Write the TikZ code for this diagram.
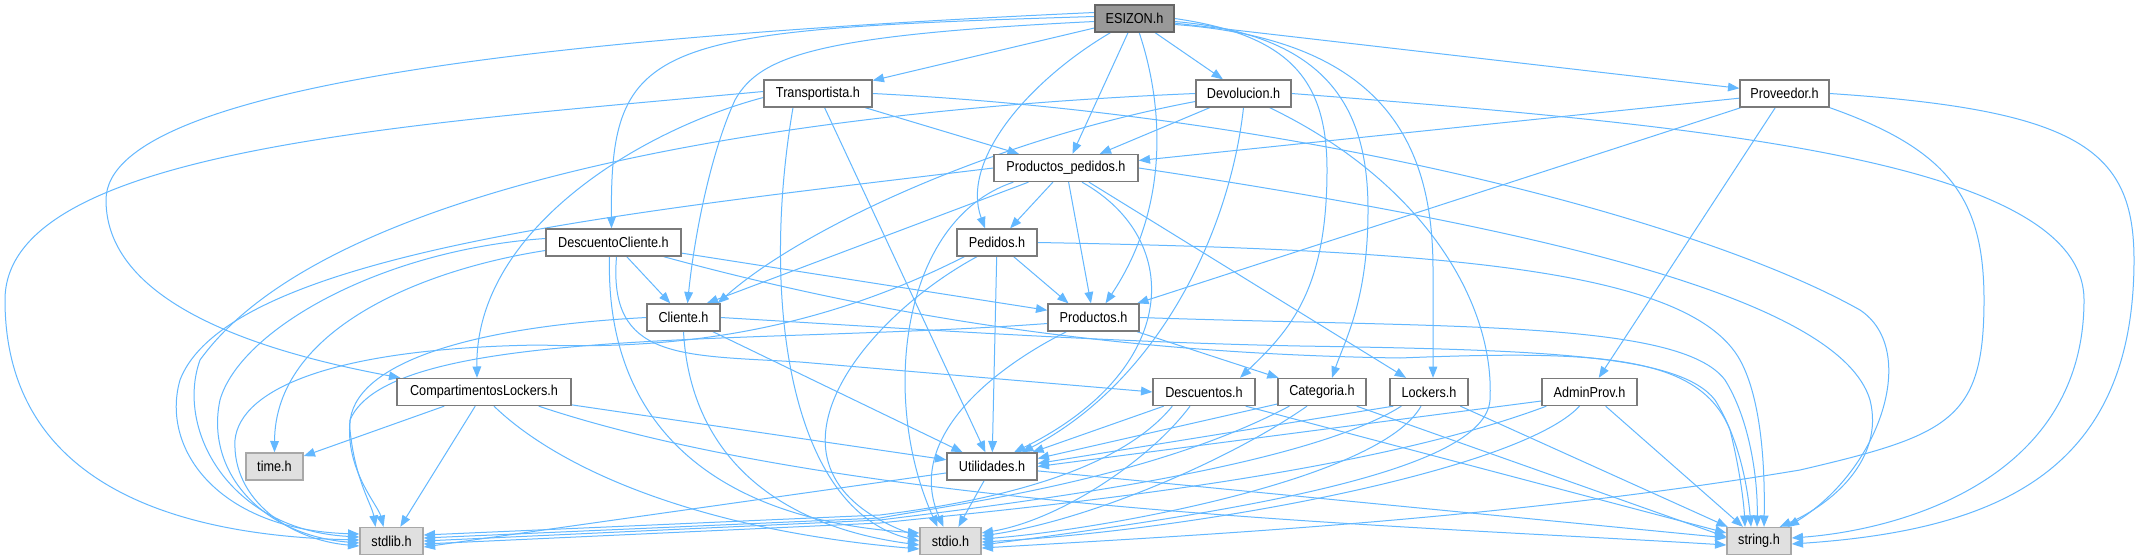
\documentclass[tikz,border=0pt]{standalone}
\usepackage{fontspec}
\setmainfont{Liberation Sans}[FakeStretch=0.88]
\usetikzlibrary{arrows.meta,calc}
\pgfdeclarelayer{bg}
\pgfsetlayers{bg,main}
\definecolor{edgec}{HTML}{63B8FF}
\definecolor{nbord}{HTML}{7A7A7A}
\definecolor{rootfill}{HTML}{999999}
\definecolor{rootbord}{HTML}{666666}
\definecolor{extfill}{HTML}{E0E0E0}
\definecolor{extbord}{HTML}{A8A8A8}
\tikzset{
  nd/.style={draw=nbord, fill=white, line width=1pt, minimum height=20.25pt, inner sep=0pt, font=\fontsize{10.8}{12}\selectfont},
  rootnd/.style={nd, fill=rootfill, draw=rootbord},
  extnd/.style={nd, fill=extfill, draw=extbord},
  dep/.style={draw=edgec, line width=0.75pt, -{Triangle[length=8.5pt,width=6.5pt]}},
}
\begin{document}
\begin{tikzpicture}[x=0.75pt,y=-0.75pt]
\useasboundingbox (0,0) rectangle (2144,560);
\begin{pgfonlayer}{bg}
\fill[white] (0,0) rectangle (2144,560);
\end{pgfonlayer}
% nodes
\node[rootnd, minimum width=59.25pt] (E) at (1134.5,18.5) {ESIZON.h};
\node[nd, minimum width=81pt] (T) at (818,93.5) {Transportista.h};
\node[nd, minimum width=71.25pt] (D) at (1243.5,93.5) {Devolucion.h};
\node[nd, minimum width=66.75pt] (Pv) at (1784.5,93.5) {Proveedor.h};
\node[nd, minimum width=108pt] (PP) at (1066,168) {Productos\_pedidos.h};
\node[nd, minimum width=101.25pt] (DC) at (613.5,242.5) {DescuentoCliente.h};
\node[nd, minimum width=60pt] (Pe) at (997,242.5) {Pedidos.h};
\node[nd, minimum width=54.75pt] (Cl) at (683.5,317.5) {Cliente.h};
\node[nd, minimum width=68.25pt] (Pr) at (1093.5,317.5) {Productos.h};
\node[nd, minimum width=130.5pt] (CL) at (484,392) {CompartimentosLockers.h};
\node[nd, minimum width=76.5pt] (De) at (1204,392) {Descuentos.h};
\node[nd, minimum width=66pt] (Ca) at (1322,392) {Categoria.h};
\node[nd, minimum width=58.5pt] (Lo) at (1429,392) {Lockers.h};
\node[nd, minimum width=71.25pt] (AP) at (1589.5,392) {AdminProv.h};
\node[extnd, minimum width=42.75pt] (ti) at (274.5,466.5) {time.h};
\node[nd, minimum width=67.5pt] (Ut) at (992,466.5) {Utilidades.h};
\node[extnd, minimum width=47.25pt] (sl) at (391.5,541) {stdlib.h};
\node[extnd, minimum width=45.75pt] (si) at (950.5,541) {stdio.h};
\node[extnd, minimum width=48pt] (sg) at (1759,541) {string.h};
\begin{pgfonlayer}{bg}
% ESIZON.h
\draw[dep] (E) -- (T);
\draw[dep] (E) -- (D);
\draw[dep] (E) -- (Pv);
\draw[dep] (E) -- (PP);
\draw[dep] (E) .. controls (1030,80) and (960,160) .. ($(Pe.north)+(-12,0)$);
\draw[dep] (E) .. controls (1165,110) and (1168,210) .. ($(Pr.north)+(12,0)$);
\draw[dep] ($(E.west)+(0,-2)$) .. controls (650,30) and (610,40) .. ($(DC.north)+(-2,0)$);
\draw[dep] ($(E.west)+(0,3)$) .. controls (820,35) and (760,55) .. (735,100) .. controls (712,150) and (695,230) .. ($(Cl.north)+(4,0)$);
\draw[dep] ($(E.west)+(0,-6)$) .. controls (600,35) and (106,80) .. (106,200) .. controls (106,300) and (250,350) .. ($(CL.north west)+(4,0)$);
\draw[dep] (E.east) .. controls (1290,35) and (1327,80) .. (1327,170) .. controls (1327,290) and (1290,330) .. ($(De.north)+(36,0)$);
\draw[dep] ($(E.east)+(0,3)$) .. controls (1330,35) and (1368,110) .. (1368,210) .. controls (1368,300) and (1345,340) .. ($(Ca.north)+(10,0)$);
\draw[dep] ($(E.east)+(0,6)$) .. controls (1390,40) and (1433,150) .. (1433,270) -- ($(Lo.north)+(4,0)$);
% Transportista.h
\draw[dep] (T) -- (PP);
\draw[dep] ($(T.west)+(0,4)$) .. controls (640,130) and (475,230) .. ($(CL.north)+(-7,0)$);
\draw[dep] (T) -- (Ut);
\draw[dep] ($(T.west)+(0,-2)$) .. controls (400,125) and (5,150) .. (5,300) .. controls (5,470) and (150,535) .. ($(sl.west)+(0,-1)$);
\draw[dep] ($(T.south)+(-25,0)$) .. controls (760,300) and (790,510) .. (si.west);
\draw[dep] (T.east) .. controls (1300,115) and (1700,220) .. (1860,310) .. controls (1920,350) and (1880,470) .. ($(sg.north east)+(-4,0)$);
% Devolucion.h
\draw[dep] (D) -- (PP);
\draw[dep] ($(D.west)+(0,8)$) .. controls (990,140) and (800,230) .. ($(Cl.north east)+(-3,0)$);
\draw[dep] (D.south) .. controls (1230,230) and (1160,380) .. ($(Ut.north)+(30,0)$);
\draw[dep] (D.west) .. controls (800,110) and (330,180) .. (200,360) .. controls (175,430) and (230,530) .. ($(sl.west)+(0,-4)$);
\draw[dep] ($(D.south east)+(-22,0)$) .. controls (1420,180) and (1495,300) .. (1490,400) .. controls (1485,470) and (1250,510) .. ($(si.east)+(0,4)$);
\draw[dep] (D.east) .. controls (1700,125) and (2084,160) .. (2084,300) .. controls (2084,480) and (1900,530) .. ($(sg.east)+(0,-3)$);
% Proveedor.h
\draw[dep] (Pv) -- (PP);
\draw[dep] (Pv) -- (Pr);
\draw[dep] (Pv) -- (AP);
\draw[dep] (Pv.south east) .. controls (1950,150) and (1984,200) .. (1984,300) .. controls (1984,420) and (1950,435) .. (1800,470) .. controls (1500,520) and (1200,535) .. ($(si.east)+(0,7)$);
\draw[dep] (Pv.east) .. controls (2080,110) and (2134,150) .. (2134,260) .. controls (2134,470) and (2000,530) .. ($(sg.east)+(0,3)$);
% Productos_pedidos.h
\draw[dep] (PP) -- (Pe);
\draw[dep] (PP) -- (Pr);
\draw[dep] (PP) -- ($(Cl.north east)+(-14,0)$);
\draw[dep] (PP) -- (Lo);
\draw[dep] ($(PP.south)+(16,0)$) .. controls (1185,240) and (1180,370) .. ($(Ut.north)+(22,0)$);
\draw[dep] (PP.west) .. controls (650,210) and (230,250) .. (180,380) .. controls (160,450) and (220,530) .. ($(sl.west)+(0,-7)$);
\draw[dep] ($(PP.south west)+(20,0)$) .. controls (900,220) and (880,400) .. ($(si.north)+(-13,0)$);
\draw[dep] (PP.east) .. controls (1550,230) and (1840,300) .. (1870,400) .. controls (1885,460) and (1830,505) .. ($(sg.north east)+(-12,0)$);
% DescuentoCliente.h
\draw[dep] (DC) -- (Cl);
\draw[dep] (DC) -- (Pr);
\draw[dep] ($(DC.south)+(3,0)$) .. controls (608,360) and (680,355) .. (800,362) -- (De.west);
\draw[dep] ($(DC.west)+(0,8)$) .. controls (420,270) and (275,330) .. (ti.north);
\draw[dep] ($(DC.west)+(0,-4)$) .. controls (380,250) and (240,330) .. (220,400) .. controls (205,470) and (260,535) .. ($(sl.west)+(0,2)$);
\draw[dep] ($(DC.south)+(-4,0)$) .. controls (605,430) and (720,520) .. ($(si.west)+(0,-8)$);
\draw[dep] ($(DC.south east)+(-18,0)$) .. controls (950,335) and (1200,355) .. (1400,358) .. controls (1600,350) and (1700,355) .. (1730,430) .. controls (1740,470) and (1744,505) .. ($(sg.north)+(-14,0)$);
% Pedidos.h
\draw[dep] (Pe) -- ($(Pr.north)+(-25,0)$);
\draw[dep] (Pe) -- (Ut);
\draw[dep] ($(Pe.south west)+(8,0)$) .. controls (820,330) and (680,350) .. (540,345) .. controls (330,348) and (240,390) .. (235,440) .. controls (232,500) and (290,540) .. ($(sl.west)+(0,5)$);
\draw[dep] ($(Pe.south)+(-20,0)$) .. controls (860,320) and (740,470) .. ($(si.west)+(0,-4)$);
\draw[dep] (Pe.east) .. controls (1450,250) and (1690,270) .. (1740,360) .. controls (1762,400) and (1765,470) .. ($(sg.north)+(5,0)$);
% Cliente.h
\draw[dep] (Cl) -- (Ut);
\draw[dep] (Cl.west) .. controls (450,328) and (345,370) .. (350,430) .. controls (355,480) and (372,505) .. ($(sl.north)+(-16,0)$);
\draw[dep] (Cl.south) .. controls (690,450) and (770,525) .. ($(si.west)+(0,4)$);
\draw[dep] (Cl.east) .. controls (900,328) and (1100,342) .. (1300,346) .. controls (1550,350) and (1680,355) .. (1715,400) .. controls (1740,440) and (1748,490) .. ($(sg.north)+(-8,0)$);
% Productos.h
\draw[dep] (Pr) -- (Ca);
\draw[dep] ($(Pr.west)+(0,6)$) .. controls (760,345) and (390,325) .. (350,420) .. controls (345,470) and (378,505) .. ($(sl.north)+(-8,0)$);
\draw[dep] ($(Pr.south)+(-27,0)$) .. controls (990,370) and (905,440) .. ($(si.north)+(-7,0)$);
\draw[dep] (Pr.east) .. controls (1450,328) and (1680,320) .. (1725,380) .. controls (1750,420) and (1758,480) .. ($(sg.north)+(-2,0)$);
% CompartimentosLockers.h
\draw[dep] (CL) -- (ti);
\draw[dep] (CL) -- (sl);
\draw[dep] ($(CL.south)+(10,0)$) .. controls (560,470) and (700,530) .. ($(si.west)+(0,8)$);
\draw[dep] (CL) -- (Ut);
\draw[dep] ($(CL.south east)+(-33,0)$) .. controls (850,510) and (1400,525) .. ($(sg.west)+(0,4)$);
% Descuentos.h
\draw[dep] (De) -- (Ut);
\draw[dep] ($(De.south west)+(20,0)$) .. controls (1120,470) and (1000,500) .. (880,515) -- ($(sl.east)+(0,-6)$);
\draw[dep] ($(De.south)+(-14,0)$) .. controls (1150,460) and (1060,520) .. ($(si.east)+(0,-8)$);
\draw[dep] ($(De.south east)+(-10,0)$) -- ($(sg.west)+(0,-8)$);
% Categoria.h
\draw[dep] ($(Ca.west)+(0,12)$) -- ($(Ut.east)+(0,-8)$);
\draw[dep] ($(Ca.south west)+(12,0)$) .. controls (1150,480) and (950,505) .. (880,518) -- ($(sl.east)+(0,-3)$);
\draw[dep] ($(Ca.south)+(-15,0)$) .. controls (1230,460) and (1090,520) .. ($(si.east)+(0,-5)$);
\draw[dep] ($(Ca.south east)+(-10,0)$) -- ($(sg.west)+(0,-4)$);
% Lockers.h
\draw[dep] ($(Lo.south west)+(4,0)$) -- ($(Ut.east)+(0,-3)$);
\draw[dep] ($(Lo.south west)+(12,0)$) .. controls (1300,470) and (1000,505) .. (880,520) -- (sl.east);
\draw[dep] ($(Lo.south)+(-8,0)$) .. controls (1380,480) and (1100,530) .. ($(si.east)+(0,-2)$);
\draw[dep] (Lo) -- (sg);
% AdminProv.h
\draw[dep] ($(AP.west)+(0,9)$) -- (Ut.east);
\draw[dep] ($(AP.south west)+(5,0)$) .. controls (1350,480) and (1000,510) .. (880,523) -- ($(sl.east)+(0,3)$);
\draw[dep] ($(AP.south)+(-10,0)$) .. controls (1520,470) and (1200,530) .. ($(si.east)+(0,1)$);
\draw[dep] (AP) -- (sg);
% Utilidades.h
\draw[dep] (Ut) -- ($(sl.east)+(0,6)$);
\draw[dep] (Ut) -- (si);
\draw[dep] (Ut) -- (sg);
\end{pgfonlayer}
\end{tikzpicture}
\end{document}
